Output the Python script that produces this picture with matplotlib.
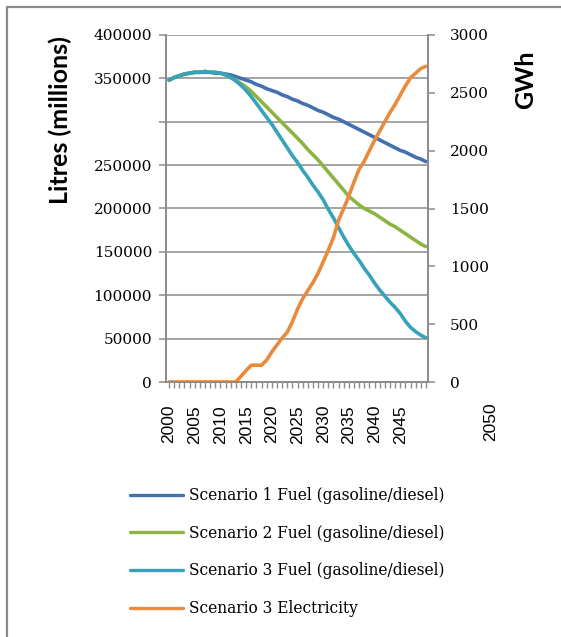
import matplotlib.pyplot as plt
import matplotlib.transforms as mtransforms
from matplotlib.patches import Rectangle
import numpy as np

years = np.arange(2000, 2051)

# fuel use, millions of litres (written in thousands)
fuel_s1 = np.array([348, 351, 353, 355, 356, 357, 357, 357, 357, 356, 356,
                    355, 354, 352, 350, 348, 346, 343, 341, 338, 336,
                    334, 331, 329, 326, 324, 321, 319, 316, 313, 311,
                    308, 305, 303, 300, 297, 294, 291, 288, 285, 282,
                    279, 276, 273, 270, 267, 265, 262, 259, 257, 254]) * 1000
fuel_s2 = np.array([348, 351, 353, 355, 356, 357, 357, 358, 357, 357, 356,
                    354, 351, 348, 344, 340, 335, 329, 323, 317, 311,
                    305, 299, 293, 287, 281, 275, 268, 262, 256, 249,
                    242, 235, 228, 221, 214, 209, 204, 200, 197, 194,
                    190, 186, 182, 179, 175, 171, 167, 163, 159, 156]) * 1000
fuel_s3 = np.array([348, 351, 353, 355, 356, 357, 357, 358, 357, 357, 356,
                    354, 351, 347, 342, 336, 329, 321, 313, 305, 297,
                    288, 279, 270, 261, 253, 244, 236, 227, 219, 210,
                    199, 189, 178, 167, 157, 148, 140, 131, 123, 114,
                    106, 99, 92, 86, 79, 70, 63, 58, 54, 51]) * 1000
# electricity, GWh
elec_s3 = np.array([0, 0, 0, 0, 0, 0, 0, 0, 0, 0, 0, 0, 0, 0,
                    50, 100, 145, 145, 145, 190, 260, 320, 380, 430, 520,
                    630, 720, 790, 860, 940, 1040, 1140, 1250, 1400, 1500,
                    1610, 1730, 1840, 1910, 2000, 2090, 2170, 2250, 2330,
                    2400, 2480, 2560, 2630, 2670, 2710, 2730])

labels = ['Scenario 1 Fuel (gasoline/diesel)',
          'Scenario 2 Fuel (gasoline/diesel)',
          'Scenario 3 Fuel (gasoline/diesel)',
          'Scenario 3 Electricity']
colors = ['#4470AE', '#8DB443', '#36A3BA', '#EA8A3C']

left_ticks = np.arange(0, 400001, 50000)
left_labels = [str(v) if v != 300000 else '' for v in left_ticks]
right_ticks = np.arange(0, 3001, 500)
year_ticks = np.arange(2000, 2050, 5)

W, H = 561, 637
fig = plt.figure(figsize=(W / 100, H / 100), dpi=100)
ax = fig.add_axes([166 / W, 1 - 382 / H, 262 / W, 347 / H])
ax2 = ax.twinx()

grey = '#8C8C8C'
lw = 2.6
h1, = ax.plot(years, fuel_s1, color=colors[0], lw=lw, solid_capstyle='round')
h2, = ax.plot(years, fuel_s2, color=colors[1], lw=lw, solid_capstyle='round')
h3, = ax.plot(years, fuel_s3, color=colors[2], lw=lw, solid_capstyle='round')
h4, = ax2.plot(years, elec_s3, color=colors[3], lw=lw, solid_capstyle='round')

ax.set_xlim(1999.4, 2050.4)
ax.set_ylim(0, 400000)
ax2.set_ylim(0, 3000)

ax.set_yticks(left_ticks)
ax.set_yticklabels(left_labels, family='DejaVu Serif', fontsize=11)
ax2.set_yticks(right_ticks)
ax2.set_yticklabels([str(v) for v in right_ticks], family='DejaVu Serif', fontsize=11)

ax.set_xticks(year_ticks)
ax.set_xticklabels([str(y) for y in year_ticks], rotation=90,
                   family='Liberation Sans', fontsize=12.5)
ax.set_xticks(years, minor=True)

ax.grid(axis='y', color=grey, lw=1.1)
ax.set_axisbelow(True)
for a in (ax, ax2):
    a.spines['top'].set_visible(False)
    for side in ('left', 'right', 'bottom'):
        a.spines[side].set_color(grey)
        a.spines[side].set_linewidth(1.3)
ax.tick_params(axis='y', length=5, width=1.1, color=grey, pad=5)
ax2.tick_params(axis='y', length=5, width=1.1, color=grey, pad=11)
ax.tick_params(axis='x', which='both', length=4, width=1, color=grey, pad=12.5)

# the last year label sits out past the right axis
trans = mtransforms.blended_transform_factory(ax.transData, ax.transAxes)
ax.text(2062.5, -0.058, '2050', rotation=90, ha='center', va='top',
        family='Liberation Sans', fontsize=12.5, transform=trans, clip_on=False)

fig.text(60 / W, 1 - 120 / H, 'Litres (millions)', rotation=90, ha='center',
         va='center', family='Lato', fontweight='bold', fontsize=18)
fig.text(526 / W, 1 - 80 / H, 'GWh', rotation=90, ha='center', va='center',
         family='Lato', fontweight='bold', fontsize=18)

fig.legend([h1, h2, h3, h4], labels, loc='upper left',
           bbox_to_anchor=(130 / W, 1 - 487 / H), frameon=False,
           prop={'family': 'DejaVu Serif', 'size': 11.2},
           handlelength=3.4, handletextpad=0.4, labelspacing=1.33,
           borderpad=0, borderaxespad=0)
for line in fig.legends[0].get_lines():
    line.set_linewidth(2.4)

# outer chart frame
fig.patches.append(Rectangle((7 / W, -0.1), 1.2, 1 - 7 / H + 0.1,
                             transform=fig.transFigure, fill=False,
                             edgecolor='#8A8A8A', lw=1.6))

fig.savefig('out.png', dpi=100)
